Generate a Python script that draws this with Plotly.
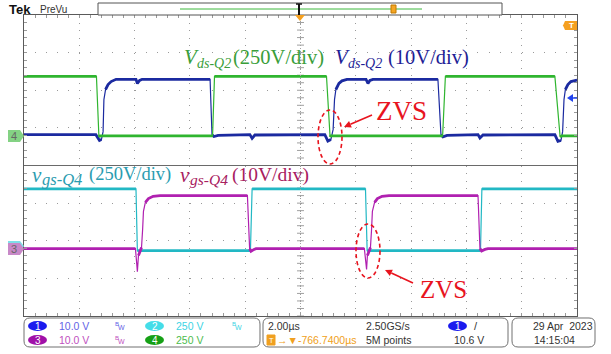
import math
import plotly.graph_objects as go

# ---------------- data (time in microseconds, values in volts) ----------------
# CH1 (blue, 10 V/div)
t_ch1 = [-10.0, -7.40, -7.27, -7.20, -7.14, -7.11, -7.05, -6.96, -6.85, -6.67, -5.95, -5.90, -5.82, -5.73,
         -3.27, -3.20, -3.13, -2.98, -1.83, -1.75, -1.65, 0.88, 0.99, 1.10, 1.18, 1.23, 1.28, 1.39, 1.50,
         1.68, 2.37, 2.44, 2.51, 2.62, 4.97, 5.08, 5.15, 5.30, 6.42, 6.49, 6.60, 9.20, 9.31, 9.42, 9.48,
         9.53, 9.58, 9.67, 9.78, 10.0]
v_ch1 = [0.0, 0.0, -1.55, -1.3, 0.8, 9.3, 12.0, 13.3, 14.1, 14.7, 14.7, 13.6, 14.4, 14.7,
         14.7, 0.0, -0.5, -0.2, 0.0, -1.0, -0.1, 0.0, -1.7, -1.3, 1.4, 9.3, 12.0, 13.6, 14.3,
         14.7, 14.7, 13.6, 14.4, 14.7, 14.7, 0.0, -0.6, -0.2, 0.0, -0.9, -0.1, 0.0, -1.8, -1.55, 0.8,
         9.3, 12.0, 13.3, 14.1, 14.5]

# CH4 (green, 250 V/div)
t_ch4 = [-10.0, -7.38, -7.29, -7.25, -3.18, -3.11, 0.94, 1.07, 1.10, 5.14, 5.24, 9.20, 9.39, 9.45, 10.0]
v_ch4 = [395, 395, -8, 0, 0, 395, 395, -8, 0, 0, 395, 395, -8, 0, 0]

# CH2 (cyan, 250 V/div)
t_ch2 = [-10.0, -5.95, -5.90, -1.81, -1.75, 2.35, 2.41, 6.51, 6.56, 10.0]
v_ch2 = [410, 410, 0, 0, 410, 410, 0, 0, 410, 410]

# CH3 (purple, 10 V/div)
t_ch3 = [-10.0, -5.97, -5.93, -5.90, -5.86, -5.80, -5.75, -5.71, -5.68, -5.61, -5.50, -5.33, -5.08,
         -1.92, -1.84, -1.79, -1.68, -1.61, 2.31, 2.35, 2.39, 2.42, 2.48, 2.53, 2.57, 2.60, 2.68, 2.78,
         2.95, 3.20, 6.42, 6.49, 6.55, 6.67, 6.78, 10.0]
v_ch3 = [0.0, 0.0, -3.4, -6.1, -1.8, -0.5, 0.3, 5.1, 9.9, 12.3, 13.3, 13.9, 14.1,
         14.1, 0.0, -0.7, -0.2, 0.0, 0.0, -3.4, -5.5, -1.8, -0.5, 0.3, 5.1, 9.9, 12.3, 13.3,
         13.9, 14.1, 14.1, 0.0, -0.6, -0.2, 0.0, 0.0]

# ---------------- geometry helpers (pixel -> paper) ----------------
W, H = 611, 354
L, R, T, B = 24, 577, 15, 316
PX_PER_US = (R - L) / 20.0
PX_PER_DIV = (B - T) / 8.0


def PX(x):
    return (x - L) / (R - L)


def PY(y):
    return (B - y) / (B - T)


# channel vertical scale (V/div) and ground position (div from centre)
CH = {
    "ch1": (10.0, 0.82),
    "ch2": (250.0, -2.26),
    "ch3": (10.0, -2.21),
    "ch4": (250.0, 0.79),
}


def rng(name):
    s, g = CH[name]
    return [(-4 - g) * s, (4 - g) * s]


def split_flat(t, v, scale):
    """Copy of the trace with the steep (edge) segments broken out (None gaps)."""
    xs, ys = [t[0]], [v[0]]
    for i in range(1, len(t)):
        dx = (t[i] - t[i - 1]) * PX_PER_US
        dy = abs(v[i] - v[i - 1]) / scale * PX_PER_DIV
        if dy > 3.5 * max(dx, 1e-6) and dy > 6:
            xs.append(None)
            ys.append(None)
        xs.append(t[i])
        ys.append(v[i])
    return xs, ys


fig = go.Figure()

C1, C2, C3, C4 = "#1b2aa0", "#22b8c4", "#b020b0", "#2fb52f"

# centre-line ticks (decoration)
fig.add_trace(go.Scatter(x=[0] * 41, y=[-4 + 0.2 * i for i in range(41)], mode="markers",
                         marker=dict(symbol="line-ew", size=5, line=dict(color="#a0a0a0", width=1)),
                         hoverinfo="skip", yaxis="y"))


def add_channel(t, v, name, axis, color):
    s = CH[name][0]
    fig.add_trace(go.Scatter(x=t, y=v, yaxis=axis, mode="lines",
                             line=dict(color=color, width=1.2), hoverinfo="skip"))
    xs, ys = split_flat(t, v, s)
    fig.add_trace(go.Scatter(x=xs, y=ys, yaxis=axis, mode="lines", connectgaps=False,
                             line=dict(color=color, width=2.8), hoverinfo="skip"))


add_channel(t_ch1, v_ch1, "ch1", "y2", C1)
add_channel(t_ch4, v_ch4, "ch4", "y5", C4)
add_channel(t_ch3, v_ch3, "ch3", "y4", C3)
add_channel(t_ch2, v_ch2, "ch2", "y3", C2)

shapes = []
ann = []

# horizontal solid divider
shapes.append(dict(type="line", xref="x", yref="y", x0=-10, x1=10, y0=0, y1=0,
                   line=dict(color="#6a6a6a", width=1)))
# vertical centre dotted
shapes.append(dict(type="line", xref="x", yref="y", x0=0, x1=0, y0=-4, y1=4,
                   line=dict(color="#a0a0a0", width=1, dash="1px,2px")))


def poly(pts, fill, line=None, lw=0):
    p = "M " + " L ".join(f"{PX(x):.5f},{PY(y):.5f}" for x, y in pts) + " Z"
    return dict(type="path", xref="paper", yref="paper", path=p, fillcolor=fill,
                line=dict(color=line or fill, width=lw), layer="above")


def rrect(x0, y0, x1, y1, r, color="#707070"):
    def p(x, y):
        return f"{PX(x):.5f},{PY(y):.5f}"
    d = (f"M {p(x0 + r, y0)} L {p(x1 - r, y0)} Q {p(x1, y0)} {p(x1, y0 + r)} "
         f"L {p(x1, y1 - r)} Q {p(x1, y1)} {p(x1 - r, y1)} L {p(x0 + r, y1)} "
         f"Q {p(x0, y1)} {p(x0, y1 - r)} L {p(x0, y0 + r)} Q {p(x0, y0)} {p(x0 + r, y0)} Z")
    return dict(type="path", xref="paper", yref="paper", path=d,
                line=dict(color=color, width=1), fillcolor="rgba(0,0,0,0)")


def oval(x0, y0, x1, y1, fill):
    return dict(type="circle", xref="paper", yref="paper", x0=PX(x0), x1=PX(x1),
                y0=PY(y1), y1=PY(y0), fillcolor=fill, line=dict(color=fill, width=0))


def txt(x, y, s, size=10.5, color="#333333", family="Liberation Sans", xanchor="left", **kw):
    ann.append(dict(x=PX(x), y=PY(y), xref="paper", yref="paper", text=s, showarrow=False,
                    xanchor=xanchor, yanchor="middle", borderpad=0,
                    font=dict(size=size, color=color, family=family), **kw))


def arrow(x0, y0, x1, y1, color, w=1.6, head=7, half=3.5):
    dx, dy = x1 - x0, y1 - y0
    n = math.hypot(dx, dy)
    ux, uy = dx / n, dy / n
    bx, by = x1 - ux * head, y1 - uy * head
    shapes.append(dict(type="line", xref="paper", yref="paper", x0=PX(x0), y0=PY(y0), x1=PX(bx), y1=PY(by),
                       line=dict(color=color, width=w)))
    shapes.append(poly([(x1, y1), (bx - uy * half, by + ux * half), (bx + uy * half, by - ux * half)], color))


# ---- top bar ----
txt(8, 9, "<b>Tek</b>", size=13, color="#111111")
txt(39, 9, "PreVu", size=10, color="#333333")
shapes.append(dict(type="rect", xref="paper", yref="paper", x0=PX(98), x1=PX(502), y0=PY(15), y1=PY(3),
                   line=dict(color="#555555", width=1), fillcolor="white"))
shapes.append(dict(type="line", xref="paper", yref="paper", x0=PX(180), x1=PX(422), y0=PY(9), y1=PY(9),
                   line=dict(color="#3cb83c", width=1)))
shapes.append(dict(type="rect", xref="paper", yref="paper", x0=PX(391), x1=PX(396), y0=PY(13), y1=PY(5),
                   line=dict(color="#c07800", width=1), fillcolor="#f5a623"))
shapes.append(dict(type="line", xref="paper", yref="paper", x0=PX(299), x1=PX(299), y0=PY(15), y1=PY(4),
                   line=dict(color="#111111", width=2)))
shapes.append(dict(type="line", xref="paper", yref="paper", x0=PX(296), x1=PX(302), y0=PY(4), y1=PY(4),
                   line=dict(color="#111111", width=1.5)))
shapes.append(poly([(295, 15), (305, 15), (300, 21)], "#f5a020"))

# ---- right-side markers ----
shapes.append(poly([(565, 21), (577, 21), (577, 30), (565, 30), (563, 25.5)], "#f5a020"))
txt(571, 25.5, "<b>T</b>", size=8, color="white", xanchor="center")
shapes.append(poly([(567, 98), (573, 94), (573, 102)], "#2244ee"))
shapes.append(dict(type="line", xref="paper", yref="paper", x0=PX(573), x1=PX(577), y0=PY(98), y1=PY(98),
                   line=dict(color="#2244ee", width=1.5)))

# ---- left ground markers ----
shapes.append(poly([(8, 241), (20, 241), (24, 246), (20, 252), (8, 252)], "#7fe0e8"))
shapes.append(poly([(8, 243), (20, 243), (24, 249), (20, 255), (8, 255)], "#c889c8"))
txt(14, 249, "3", size=11, color="#666666", xanchor="center")
shapes.append(poly([(8, 130), (20, 130), (24, 136), (20, 142), (8, 142)], "#84d284"))
txt(14, 136, "4", size=11, color="#666666", xanchor="center")

# ---- signal labels (symbol, subscript and scale as separate pieces) ----
SERIF = "Liberation Serif"


def label(x_sym, x_sub, x_par, y_main, y_sub, sym, sub, par, color, s_sym, s_sub, s_par):
    txt(x_sym, y_main, f"<i>{sym}</i>", size=s_sym, color=color, family=SERIF)
    txt(x_sub, y_sub, f"<i>{sub}</i>", size=s_sub, color=color, family=SERIF)
    txt(x_par, y_main, par, size=s_par, color=color, family=SERIF)


label(183, 196, 232, 57, 64, "V", "ds-Q2", "(250V/div)", "#3a9e3a", 21, 14, 20.5)
label(334, 347, 387, 57, 64, "V", "ds-Q2", "(10V/div)", "#1e1e96", 21, 14, 20.5)
label(31, 41, 88, 175, 180, "v", "gs-Q4", "(250V/div)", "#2a9cb0", 21, 16.5, 18.5)
label(179, 189, 231, 175, 180, "v", "gs-Q4", "(10V/div)", "#a82060", 21, 15.5, 19.5)

RED = "#e8141e"
txt(375, 111, "ZVS", size=27, color=RED, family=SERIF)
txt(419, 289, "ZVS", size=25, color=RED, family=SERIF)
shapes.append(dict(type="circle", xref="paper", yref="paper", x0=PX(318), x1=PX(342), y0=PY(164), y1=PY(110),
                   line=dict(color=RED, width=1.6, dash="4px,3px")))
shapes.append(dict(type="circle", xref="paper", yref="paper", x0=PX(356), x1=PX(380), y0=PY(278), y1=PY(224),
                   line=dict(color=RED, width=1.6, dash="4px,3px")))
arrow(372, 115, 344, 127, RED)
arrow(413, 283, 385, 270, RED)

# ---- status bar ----
shapes.append(rrect(24, 318, 260, 347, 6))
shapes.append(rrect(263, 318, 508, 347, 6))
shapes.append(rrect(512, 318, 595, 347, 6))

shapes.append(oval(28, 321, 47, 331, "#1a1aee"))
txt(37.5, 326, "1", size=10, color="white", xanchor="center")
shapes.append(oval(145, 321, 164, 331, "#45dde8"))
txt(154.5, 326, "2", size=10, color="white", xanchor="center")
shapes.append(oval(28, 335, 47, 345, "#a010a8"))
txt(37.5, 340, "3", size=10, color="white", xanchor="center")
shapes.append(oval(145, 335, 164, 345, "#16a016"))
txt(154.5, 340, "4", size=10, color="white", xanchor="center")


def bw(x, y, color):
    txt(x, y - 2.5, "B", size=6, color=color)
    txt(x + 3, y + 1.5, "W", size=7, color=color)


txt(58, 326, "10.0 V", color="#6464e6")
bw(114, 326, "#6464e6")
txt(175, 326, "250 V", color="#3cd4e4")
bw(231, 326, "#3cd4e4")
txt(58, 340, "10.0 V", color="#c050c0")
bw(114, 340, "#c050c0")
txt(175, 340, "250 V", color="#4cbc4c")

txt(267, 326, "2.00µs", color="#333333")
shapes.append(dict(type="rect", xref="paper", yref="paper", x0=PX(267), x1=PX(275), y0=PY(345), y1=PY(335),
                   line=dict(color="#f0a020", width=1), fillcolor="#f0a020"))
txt(271, 340, "T", size=7.5, color="white", xanchor="center")
txt(276, 340, "→▼-766.7400µs", color="#f0a020")
txt(365, 326, "2.50GS/s", color="#333333")
txt(365, 340, "5M points", color="#333333")
shapes.append(oval(448, 321, 467, 331, "#1a1aee"))
txt(457.5, 326, "1", size=10, color="white", xanchor="center")
txt(473, 326, "/", size=11, color="#333333")
txt(453, 340, "10.6 V", color="#333333")
txt(532, 326, "29 Apr  2023", color="#333333")
txt(533, 340, "14:15:04", color="#333333")

fig.update_layout(
    width=W, height=H,
    margin=dict(l=L, r=W - R, t=T, b=H - B, pad=0),
    autosize=False,
    paper_bgcolor="white", plot_bgcolor="white",
    showlegend=False,
    xaxis=dict(range=[-10, 10], dtick=2, tick0=0, showticklabels=False, showgrid=True,
               gridcolor="#9a9a9a", gridwidth=1, griddash="1px,6.525px", zeroline=False,
               showline=True, linecolor="#5a5a5a", linewidth=1, mirror="ticks",
               ticks="inside", ticklen=3, tickcolor="#9a9a9a",
               minor=dict(dtick=0.4, tick0=0, ticks="inside", ticklen=3, tickcolor="#9a9a9a", showgrid=False),
               fixedrange=True),
    yaxis=dict(range=[-4, 4], dtick=1, tick0=0, showticklabels=False, showgrid=True,
               gridcolor="#9a9a9a", gridwidth=1, griddash="1px,10.06px", zeroline=False,
               showline=True, linecolor="#5a5a5a", linewidth=1, mirror="ticks",
               ticks="inside", ticklen=3, tickcolor="#9a9a9a",
               minor=dict(dtick=0.2, tick0=0, ticks="inside", ticklen=3, tickcolor="#9a9a9a", showgrid=False),
               fixedrange=True),
    yaxis2=dict(range=rng("ch1"), overlaying="y", visible=False, fixedrange=True),
    yaxis3=dict(range=rng("ch2"), overlaying="y", visible=False, fixedrange=True),
    yaxis4=dict(range=rng("ch3"), overlaying="y", visible=False, fixedrange=True),
    yaxis5=dict(range=rng("ch4"), overlaying="y", visible=False, fixedrange=True),
    shapes=shapes,
    annotations=ann,
)

fig.write_html("out.html", config=dict(displayModeBar=False),
               post_script="document.body.style.margin='0';document.body.style.overflow='hidden';")
